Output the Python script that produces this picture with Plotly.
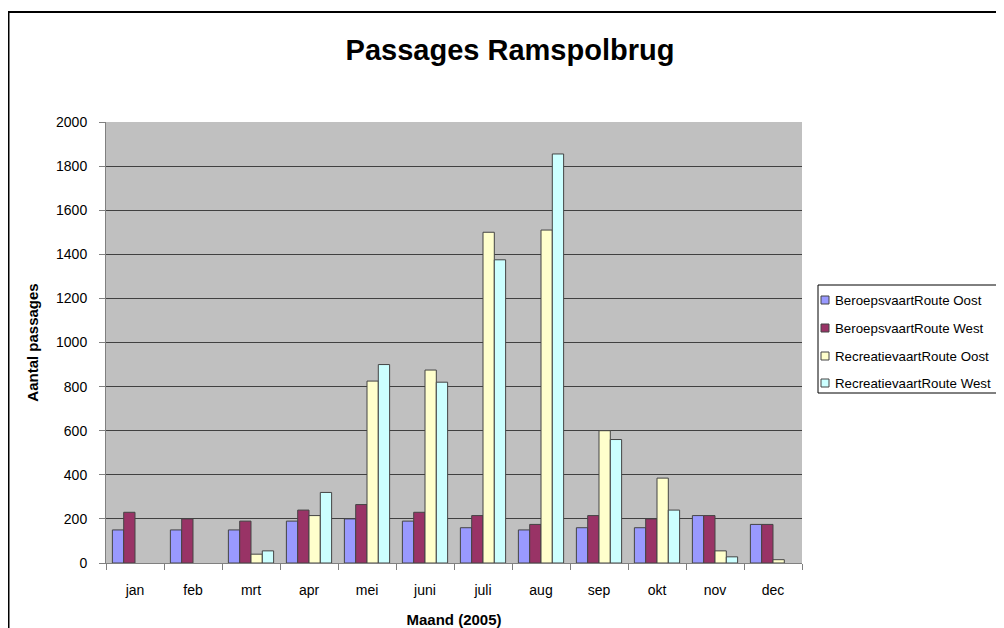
import plotly.graph_objects as go

months = ["jan", "feb", "mrt", "apr", "mei", "juni", "juli", "aug", "sep", "okt", "nov", "dec"]
beroeps_oost = [150, 150, 150, 190, 200, 190, 160, 150, 160, 160, 215, 175]
beroeps_west = [230, 200, 190, 240, 265, 230, 215, 175, 215, 200, 215, 175]
recreatie_oost = [0, 0, 40, 215, 825, 875, 1500, 1510, 600, 385, 55, 15]
recreatie_west = [0, 0, 55, 320, 900, 820, 1375, 1855, 560, 240, 28, 0]

series_names = ["BeroepsvaartRoute Oost", "BeroepsvaartRoute West",
                "RecreatievaartRoute Oost", "RecreatievaartRoute West"]
series_values = [beroeps_oost, beroeps_west, recreatie_oost, recreatie_west]
series_colors = ["#9999FF", "#993366", "#FFFFCC", "#CCFFFF"]

W, H = 1004, 628
OFF = 8  # page body margin
L, R, T, B = 106 - OFF, 802 - OFF, 122 - OFF, 563 - OFF
FONT = "Liberation Sans, Arial, sans-serif"

fig = go.Figure()
for i, (name, vals, col) in enumerate(zip(series_names, series_values, series_colors)):
    fig.add_trace(go.Bar(
        x=months, y=vals, name=name, showlegend=False,
        marker=dict(color=col, line=dict(color="#444444",
                                         width=[0 if v == 0 else 1 for v in vals])),
    ))

def px_x(px):
    return (px - OFF - L) / (R - L)

def px_y(py):
    return (B - (py - OFF)) / (B - T)

shapes = [
    dict(type="rect", xref="paper", yref="paper",
         x0=px_x(8.5), x1=px_x(1030), y0=px_y(660), y1=px_y(12),
         line=dict(color="black", width=2), fillcolor="rgba(0,0,0,0)", layer="below"),
    # legend box
    dict(type="rect", xref="paper", yref="paper",
         x0=px_x(818), x1=px_x(1030), y0=px_y(393), y1=px_y(285),
         line=dict(color="black", width=1), fillcolor="white", layer="below"),
]
annotations = []
legend_y = [300, 328, 356, 383]
for name, col, ly in zip(series_names, series_colors, legend_y):
    shapes.append(dict(type="rect", xref="paper", yref="paper",
                       x0=px_x(821), x1=px_x(829), y0=px_y(ly + 4), y1=px_y(ly - 4),
                       line=dict(color="#444444", width=1), fillcolor=col))
    annotations.append(dict(text=name, xref="paper", yref="paper",
                            x=px_x(833), y=px_y(ly), xanchor="left", yanchor="middle",
                            showarrow=False, font=dict(size=13.3, family=FONT, color="black")))

fig.update_layout(
    width=W, height=H,
    margin=dict(l=L, r=W - R, t=T, b=H - B, pad=0, autoexpand=False),
    paper_bgcolor="white",
    plot_bgcolor="#C0C0C0",
    barmode="group",
    bargap=0.22,
    bargroupgap=0,
    font=dict(family=FONT, color="black", size=14),
    title=dict(text="<b>Passages Ramspolbrug</b>", x=px_x(510), xref="paper", xanchor="center",
               y=1 - (50 - OFF) / H, yanchor="middle", font=dict(size=29, family=FONT)),
    showlegend=False,
    xaxis=dict(
        showgrid=False, showline=True, linecolor="#808080", linewidth=1,
        ticks="outside", ticklen=6, tickcolor="#808080", tickson="boundaries",
        tickfont=dict(size=14), zeroline=False, ticklabelstandoff=14,
        title=dict(text="<b>Maand (2005)</b>", font=dict(size=15), standoff=17),
    ),
    yaxis=dict(
        range=[0, 2000], dtick=200, showgrid=True, gridcolor="#404040", gridwidth=1,
        showline=True, linecolor="#808080", linewidth=1,
        ticks="outside", ticklen=6, tickcolor="#808080",
        tickfont=dict(size=14), zeroline=False, ticklabelstandoff=9,
        title=dict(text="<b>Aantal passages</b>", font=dict(size=15), standoff=13),
    ),
    shapes=shapes,
    annotations=annotations,
)

fig.write_html("out.html")
